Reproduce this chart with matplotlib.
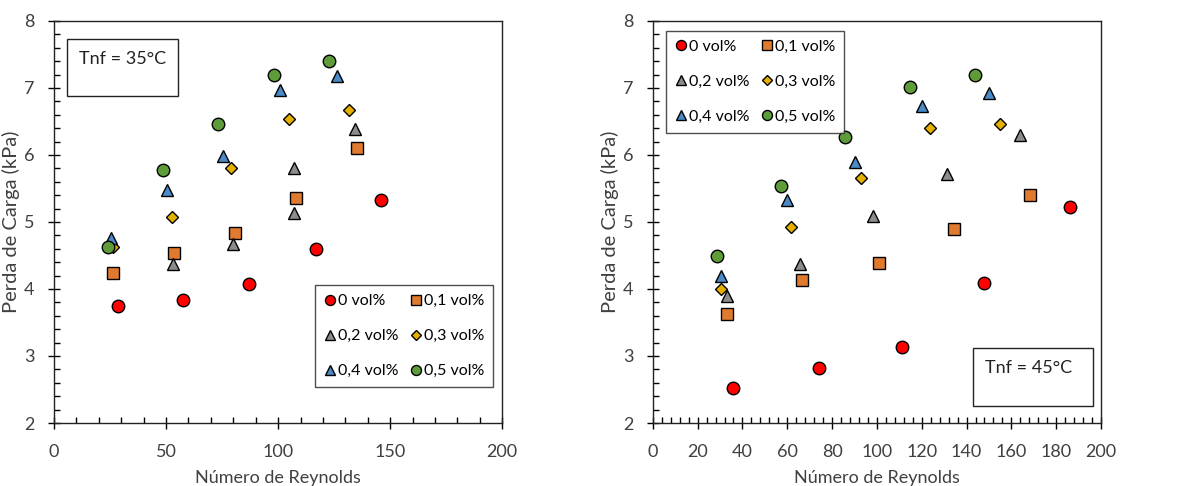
import matplotlib
matplotlib.use('Agg')
import matplotlib.pyplot as plt
from matplotlib.patches import Rectangle
from matplotlib.ticker import MultipleLocator

plt.rcParams['font.family'] = ['Lato', 'DejaVu Sans']

# Tnf = 35 C
re35_0 = [28.6, 57.7, 86.9, 116.7, 145.8]
dp35_0 = [3.75, 3.83, 4.08, 4.60, 5.33]
re35_1 = [26.3, 53.7, 80.8, 108.2, 135.1]
dp35_1 = [4.24, 4.53, 4.84, 5.36, 6.11]
re35_2 = [53.3, 79.8, 107.1, 107.1, 134.1]
dp35_2 = [4.38, 4.67, 5.13, 5.81, 6.39]
re35_3 = [26.3, 52.7, 79.0, 104.8, 131.7]
dp35_3 = [4.62, 5.07, 5.81, 6.54, 6.67]
re35_4 = [25.3, 50.4, 75.6, 100.7, 126.3]
dp35_4 = [4.76, 5.48, 5.98, 6.97, 7.18]
re35_5 = [24.0, 48.7, 73.4, 98.1, 122.8]
dp35_5 = [4.62, 5.77, 6.46, 7.19, 7.40]

# Tnf = 45 C
re45_0 = [36.0, 74.1, 111.1, 148.0, 186.0]
dp45_0 = [2.52, 2.82, 3.14, 4.09, 5.23]
re45_1 = [33.2, 66.8, 101.0, 134.6, 168.2]
dp45_1 = [3.62, 4.13, 4.39, 4.90, 5.40]
re45_2 = [33.0, 65.7, 98.3, 131.2, 163.7]
dp45_2 = [3.90, 4.38, 5.09, 5.71, 6.30]
re45_3 = [30.3, 61.7, 93.1, 123.9, 154.8]
dp45_3 = [4.00, 4.93, 5.66, 6.40, 6.46]
re45_4 = [30.5, 60.1, 90.3, 120.0, 150.2]
dp45_4 = [4.19, 5.33, 5.89, 6.73, 6.92]
re45_5 = [28.6, 57.2, 85.8, 114.9, 143.6]
dp45_5 = [4.49, 5.53, 6.27, 7.01, 7.19]

rotulos = ['0 vol%', '0,1 vol%', '0,2 vol%', '0,3 vol%', '0,4 vol%', '0,5 vol%']
cores = ['#ff0000', '#e07a2f', '#8c8c8c', '#e6b000', '#4a8ac8', '#5e9c3a']
marcas = ['o', 's', '^', 'D', '^', 'o']
tamanhos = [9, 8.5, 9, 6, 9, 9]

dados35 = [(re35_0, dp35_0), (re35_1, dp35_1), (re35_2, dp35_2),
           (re35_3, dp35_3), (re35_4, dp35_4), (re35_5, dp35_5)]
dados45 = [(re45_0, dp45_0), (re45_1, dp45_1), (re45_2, dp45_2),
           (re45_3, dp45_3), (re45_4, dp45_4), (re45_5, dp45_5)]

fig = plt.figure(figsize=(12, 4.86), dpi=100)
ax1 = fig.add_axes([0.045, 0.1296, 0.3735, 0.8274])
ax2 = fig.add_axes([0.544, 0.1296, 0.3735, 0.8274])


def desenha(ax, dados, xmaior, xmenor):
    hs = []
    for i, (x, y) in enumerate(dados):
        h, = ax.plot(x, y, linestyle='none', marker=marcas[i],
                     markersize=tamanhos[i], markerfacecolor=cores[i],
                     markeredgecolor='black', markeredgewidth=1.0,
                     label=rotulos[i])
        hs.append(h)
    ax.set_xlim(0, 200)
    ax.set_ylim(2, 8)
    ax.xaxis.set_major_locator(MultipleLocator(xmaior))
    ax.xaxis.set_minor_locator(MultipleLocator(xmenor))
    ax.yaxis.set_major_locator(MultipleLocator(1))
    ax.yaxis.set_minor_locator(MultipleLocator(0.2))
    ax.tick_params(which='major', direction='inout', length=8, width=1,
                   labelsize=13, colors='black')
    ax.tick_params(axis='x', which='major', pad=11)
    ax.tick_params(axis='y', which='major', pad=10)
    ax.tick_params(which='minor', direction='in', length=4, width=1)
    ax.tick_params(axis='both', labelcolor='#404040')
    for s in ax.spines.values():
        s.set_linewidth(1.0)
        s.set_color('#222222')
    ax.set_xlabel('Número de Reynolds', fontsize=13, color='#404040',
                  labelpad=7)
    ax.set_ylabel('Perda de Carga (kPa)', fontsize=14.5, color='#404040',
                  labelpad=3)
    # ordem por linhas para legenda com 2 colunas
    ordem = [0, 2, 4, 1, 3, 5]
    return [hs[k] for k in ordem]


hs1 = desenha(ax1, dados35, 50, 10)
hs2 = desenha(ax2, dados45, 20, 4)

opts_leg = dict(ncol=2, fontsize=11.5, frameon=True, fancybox=False,
                edgecolor='#222222', handletextpad=0.1, columnspacing=0.7,
                labelspacing=1.3, handlelength=0.8, borderpad=0.55,
                markerscale=0.8, borderaxespad=0.0)
leg1 = ax1.legend(handles=hs1, loc='lower right',
                  bbox_to_anchor=(0.980, 0.0896), **opts_leg)
leg1.get_frame().set_linewidth(1.0)

leg2 = ax2.legend(handles=hs2, loc='upper left',
                  bbox_to_anchor=(0.029, 0.975), **opts_leg)
leg2.get_frame().set_linewidth(1.0)

# caixas de temperatura
ax1.add_patch(Rectangle((0.029, 0.813), 0.248, 0.142, transform=ax1.transAxes,
                        facecolor='white', edgecolor='#222222', linewidth=1.0,
                        zorder=3))
ax1.text(0.056, 0.905, 'Tnf = 35°C', transform=ax1.transAxes, fontsize=13,
         color='#222222', va='center', ha='left', zorder=4)
ax2.add_patch(Rectangle((0.714, 0.042), 0.268, 0.145, transform=ax2.transAxes,
                        facecolor='white', edgecolor='#222222', linewidth=1.0,
                        zorder=3))
ax2.text(0.741, 0.137, 'Tnf = 45°C', transform=ax2.transAxes, fontsize=13,
         color='#222222', va='center', ha='left', zorder=4)

fig.savefig('out.png', dpi=100)
